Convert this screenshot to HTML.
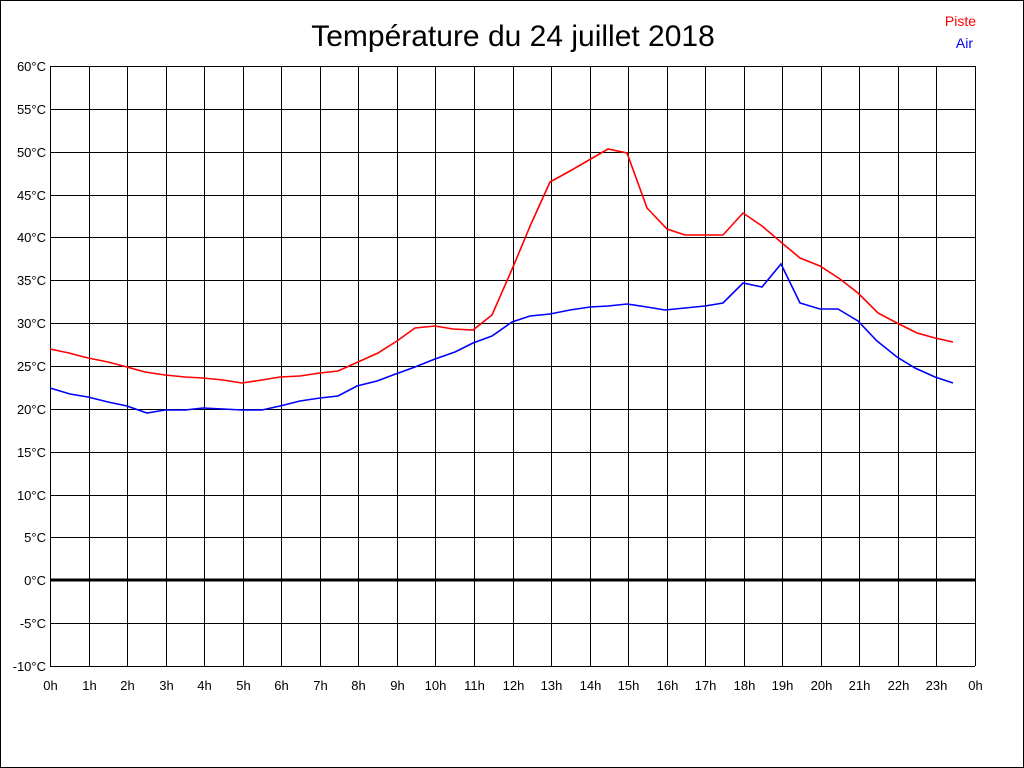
<!DOCTYPE html>
<html><head><meta charset="utf-8"><style>
html,body{margin:0;padding:0;background:#fff;}
svg{display:block;}
text{font-family:"Liberation Sans",sans-serif;}
</style></head><body>
<svg width="1024" height="768" viewBox="0 0 1024 768" xmlns="http://www.w3.org/2000/svg">
<rect x="0.5" y="0.5" width="1023" height="767" fill="#fff" stroke="#000"/>
<text x="513" y="46" font-size="30" text-anchor="middle">Température du 24 juillet 2018</text>
<text x="976" y="26" font-size="14" fill="#f00" text-anchor="end">Piste</text>
<text x="973" y="48" font-size="14" fill="#00f" text-anchor="end">Air</text>
<g stroke="#000" stroke-width="1" id="grid"></g>
<g font-size="13" id="lbl"></g>
<polyline fill="none" stroke="#f00" stroke-width="1.6" points="50,349 69,353 88,358 108,362 127,367 145,372 165,375 185,377 203,378 223,380 242,383 262,380 280,377 300,376 320,373 338,371 358,362 378,353 397,341 415,328 435,326 453,329 473,330 492,315 513,267 531,224 550,182 570,171 589,160 608,149 627,153 647,208 667,229 685,235 705,235 723,235 743,213 762,226 782,243 800,258 820,266 840,279 858,293 878,313 897,323 917,333 935,338 953,342"/>
<polyline fill="none" stroke="#00f" stroke-width="1.6" points="50,388 70,394 88,397 108,402 127,406 147,413 165,410 185,410 203,408 223,409 242,410 262,410 280,406 300,401 320,398 338,396 357,386 377,381 393,375 415,367 435,359 455,352 473,343 492,336 512,322 530,316 550,314 570,310 590,307 608,306 627,304 647,307 665,310 685,308 705,306 723,303 743,283 762,287 781,264 800,303 820,309 838,309 858,321 877,341 897,357 915,368 935,377 953,383"/>
<script>
var g=document.getElementById('grid'),l=document.getElementById('lbl'),ns='http://www.w3.org/2000/svg';
function el(p,n,a,t){var e=document.createElementNS(ns,n);for(var k in a)e.setAttribute(k,a[k]);if(t!=null)e.textContent=t;p.appendChild(e);return e;}
for(var i=0;i<=14;i++){var y=Math.round(66+i*600/14);var v=60-i*5;
 el(g,'line',{x1:50,x2:975,y1:v==0?y:y+0.5,y2:v==0?y:y+0.5,'stroke-width':v==0?3:1});
 el(l,'text',{x:46,y:y+5,'text-anchor':'end'},v+'°C');}
for(var h=0;h<=24;h++){var x=50+h*925/24;x=Math.round(x)+0.5;
 el(g,'line',{x1:x,x2:x,y1:66,y2:666});
 el(l,'text',{x:x,y:690,'text-anchor':'middle'},(h%24)+'h');}
</script>
</svg>
</body></html>
